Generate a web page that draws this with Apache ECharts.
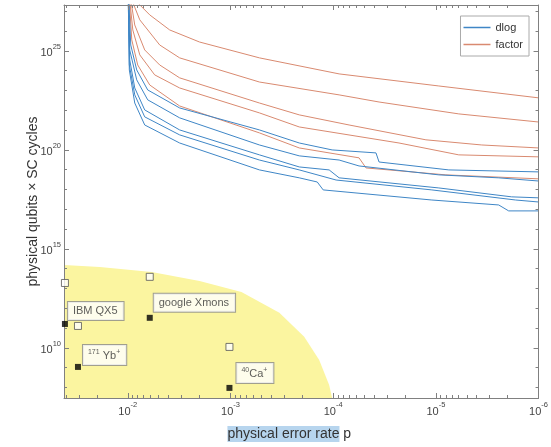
<!DOCTYPE html>
<html><head><meta charset="utf-8">
<script src="https://cdn.jsdelivr.net/npm/echarts@6/dist/echarts.min.js"></script>
<style>html,body{margin:0;padding:0;background:#fff}#c{width:551px;height:447px}</style>
</head><body><div id="c"></div>
<script>
// All values are stored as base-10 exponents: x = log10(p), y = log10(qubits x cycles)
const xTickExps = [-2, -3, -4, -5, -6];
const yTickExps = [10, 15, 20, 25];

const factorCurves = [
  [[-2.068,27.58],[-2.214,26.82],[-2.408,26.06],[-2.699,25.45],[-3.282,24.65],[-4.058,23.84],[-5.029,23.23],[-6.0,22.63]],
  [[-2.039,27.58],[-2.117,26.57],[-2.311,25.30],[-2.505,24.65],[-3.282,23.43],[-4.058,22.78],[-4.447,22.42],[-5.223,21.82],[-6.0,21.41]],
  [[-2.029,27.58],[-2.068,26.31],[-2.165,25.05],[-2.311,24.29],[-2.505,23.64],[-3.282,22.37],[-3.670,21.77],[-4.155,21.26],[-4.903,20.51],[-5.447,20.25],[-6.0,20.10]],
  [[-2.019,27.58],[-2.049,26.06],[-2.117,24.80],[-2.262,23.79],[-2.505,23.13],[-3.282,21.87],[-3.670,21.16],[-4.641,20.35],[-5.223,19.75],[-6.0,19.65]],
  [[-2.015,27.58],[-2.039,25.56],[-2.097,24.29],[-2.214,23.28],[-2.505,22.22],[-3.282,20.86],[-3.670,20.10],[-4.252,19.60],[-4.320,19.09],[-5.097,18.74],[-6.0,18.54]]
];
const dlogCurves = [
  [[-2.010,27.58],[-2.029,25.30],[-2.087,24.04],[-2.194,23.03],[-2.505,22.12],[-3.282,21.01],[-3.670,20.35],[-3.990,20.00],[-4.417,19.85],[-4.447,19.39],[-5.126,18.99],[-6.0,18.89]],
  [[-2.010,27.58],[-2.019,25.05],[-2.087,23.54],[-2.194,22.53],[-2.505,21.62],[-3.282,20.25],[-3.670,19.70],[-4.058,19.49],[-4.252,19.19],[-5.029,18.74],[-5.612,18.59],[-6.0,18.43]],
  [[-2.005,27.58],[-2.019,24.55],[-2.068,23.13],[-2.165,22.02],[-2.505,21.01],[-3.282,19.75],[-3.670,19.14],[-3.961,18.99],[-4.058,18.59],[-5.029,18.08],[-5.738,17.63],[-6.0,17.58]],
  [[-2.005,27.58],[-2.015,24.29],[-2.068,22.78],[-2.165,21.67],[-2.505,20.76],[-3.282,19.49],[-3.670,18.99],[-4.029,18.48],[-4.961,17.98],[-5.777,17.47],[-6.0,17.37]],
  [[-2.005,27.58],[-2.015,24.04],[-2.068,22.37],[-2.165,21.26],[-2.505,20.35],[-3.282,18.99],[-3.670,18.59],[-3.845,18.38],[-3.903,17.98],[-4.961,17.47],[-5.612,17.22],[-5.709,16.92],[-6.0,16.92]]
];
const regionBoundary = [[-1.379,14.19],[-1.728,14.09],[-2.233,13.84],[-2.699,13.38],[-3.107,12.83],[-3.476,11.77],[-3.718,10.56],[-3.864,9.39],[-3.961,8.13],[-3.990,7.47]];

const deviceNames = ['IBM QX5', 'google Xmons', '{s|171}{b| Yb}{s|+}', '{s|40}{b|Ca}{s|+}'];
const devicePExp = [-1.388, -2.214, -1.515, -2.990];
const deviceNowExp = [11.21, 11.52, 9.04, 7.98];
const deviceGoalExp = [13.28, 13.59, 11.11, 10.05];

const X_MIN = -6, X_MAX = -1.379, Y_MIN = 7.47, Y_MAX = 27.32;
const labelOffsets = [[6,-1],[7,-3],[8,1],[10,-2]];

const minorX = [];
for (let n = -6; n <= -1; n++) for (let k = 2; k <= 9; k++) {
  const v = n + Math.log10(k);
  if (v > X_MIN && v < X_MAX) minorX.push(v);
}
const minorY = [];
for (let n = 8; n <= 27; n++) if (n % 5 !== 0) minorY.push(n);

const AX = '#808080';
const FONT = 'Liberation Sans';
const supRich = {
  b: {fontSize: 11, color: '#444', lineHeight: 16, verticalAlign: 'bottom', fontFamily: FONT},
  s: {fontSize: 7.5, color: '#444', lineHeight: 10, verticalAlign: 'top', fontFamily: FONT}
};
function mkAxis(dim, pos, ticks, len, showLine, labels) {
  const a = {
    type: 'value', position: pos, gridIndex: 0, z: 5,
    min: dim === 'x' ? X_MIN : Y_MIN, max: dim === 'x' ? X_MAX : Y_MAX,
    inverse: dim === 'x',
    splitLine: {show: false},
    axisLine: {show: showLine, lineStyle: {color: AX, width: 1}},
    axisTick: {show: true, inside: true, length: len, customValues: ticks, lineStyle: {color: AX, width: 1}},
    axisLabel: {show: false}
  };
  if (labels) {
    a.axisLabel = {show: true, customValues: labels, margin: 3,
      formatter: v => '{b|10}{s|' + Math.round(v) + '}', rich: supRich};
  }
  return a;
}

const xAxes = [
  Object.assign(mkAxis('x', 'bottom', xTickExps, 5, true, xTickExps), {
    name: '{h|physical error rate} p', nameLocation: 'middle', nameGap: 28, nameMoveOverlap: false,
    nameTextStyle: {fontSize: 14, color: '#333', fontFamily: FONT, verticalAlign: 'top', padding: [0, 24, 0, 0],
      rich: {h: {fontSize: 14, color: '#333', backgroundColor: '#b7d5ee', padding: [1, 0, 1, 0], fontFamily: FONT}}}
  }),
  mkAxis('x', 'bottom', minorX, 3, false),
  mkAxis('x', 'top', xTickExps, 5, true),
  mkAxis('x', 'top', minorX, 3, false)
];
const yAxes = [
  Object.assign(mkAxis('y', 'left', yTickExps, 5, true, yTickExps), {
    name: 'physical qubits \u00d7 SC cycles', nameLocation: 'middle', nameGap: 24, nameMoveOverlap: false,
    nameTextStyle: {fontSize: 14, color: '#333', fontFamily: FONT, verticalAlign: 'bottom'}
  }),
  mkAxis('y', 'left', minorY, 3, false),
  mkAxis('y', 'right', yTickExps, 5, true),
  mkAxis('y', 'right', minorY, 3, false)
];

const series = [];
series.push({
  type: 'line', name: 'region', data: regionBoundary, symbol: 'none', silent: true,
  lineStyle: {width: 0}, areaStyle: {color: '#fbf5a0', opacity: 1, origin: 'start'}, z: 1
});
factorCurves.forEach(c => series.push({
  type: 'line', name: 'factor', data: c, symbol: 'none', color: '#d98a70',
  lineStyle: {width: 1, color: '#d98a70'}, z: 3
}));
dlogCurves.forEach(c => series.push({
  type: 'line', name: 'dlog', data: c, symbol: 'none', color: '#3f86c6',
  lineStyle: {width: 1, color: '#3f86c6'}, z: 3
}));
series.push({
  type: 'scatter', name: 'goal', symbol: 'rect', symbolSize: 7, z: 6,
  itemStyle: {color: '#fff', borderColor: '#555', borderWidth: 1},
  data: devicePExp.map((p, i) => [p, deviceGoalExp[i]])
});
series.push({
  type: 'scatter', name: 'now', symbol: 'rect', symbolSize: 6, z: 7,
  itemStyle: {color: '#000'},
  data: devicePExp.map((p, i) => ({
    value: [p, deviceNowExp[i]],
    label: {
      show: true, formatter: deviceNames[i], position: labelOffsets[i], align: 'left', verticalAlign: 'bottom',
      backgroundColor: '#fff', borderColor: '#8a8a8a', borderWidth: 1, padding: [4, 6, 3, 5],
      fontSize: 11, color: '#333', fontFamily: FONT,
      rich: {
        b: {fontSize: 11, color: '#333', lineHeight: 13, verticalAlign: 'bottom', fontFamily: FONT},
        s: {fontSize: 7, color: '#333', lineHeight: 8, verticalAlign: 'top', fontFamily: FONT}
      }
    }
  }))
});

const chart = echarts.init(document.getElementById('c'));
chart.setOption({
  animation: false,
  backgroundColor: '#fff',
  grid: {left: 64, right: 11, top: 5, bottom: 49, containLabel: false},
  legend: {
    data: ['dlog', 'factor'], orient: 'vertical', right: 22, top: 16,
    icon: 'rect', itemWidth: 27, itemHeight: 1.5,
    backgroundColor: '#fff', borderColor: '#aaa', borderWidth: 1, borderRadius: 0,
    padding: [5, 6, 5, 3], itemGap: 4,
    textStyle: {fontSize: 11, color: '#333', fontFamily: FONT, lineHeight: 13}
  },
  xAxis: xAxes,
  yAxis: yAxes,
  series: series
});
</script>
</body></html>
